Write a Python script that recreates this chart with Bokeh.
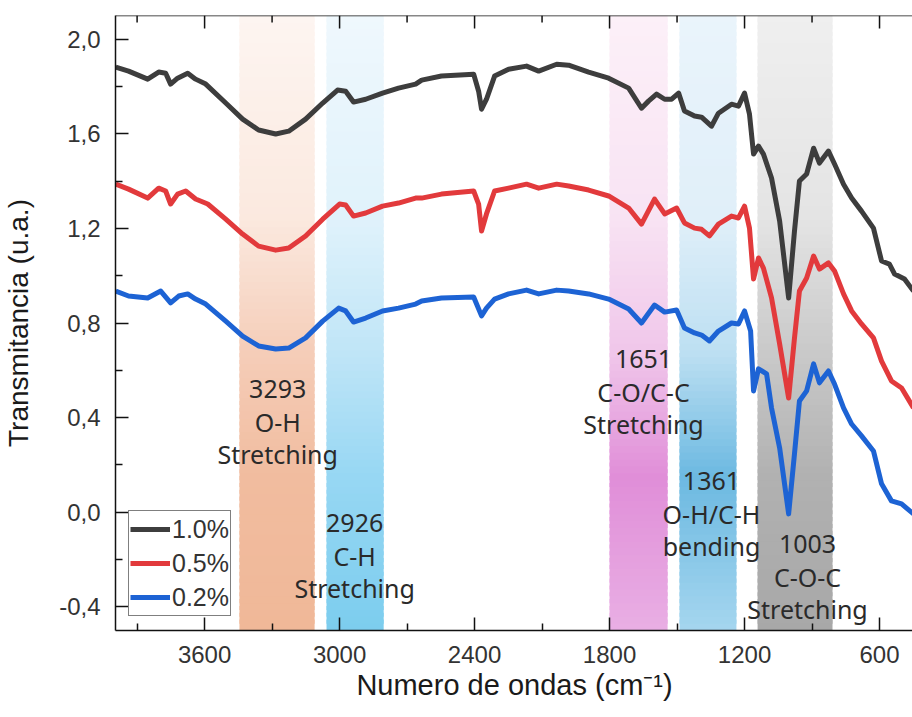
from bokeh.plotting import figure
from bokeh.models import (Range1d, FixedTicker, CustomJSTickFormatter, Span,
                          ColumnDataSource, Legend, LegendItem)
from bokeh.core.properties import value
from bokeh.embed import file_html
from bokeh.resources import INLINE

# ---------------- data ----------------
wn_10 = [3995, 3938, 3853, 3804, 3773, 3751, 3720, 3675, 3640, 3595, 3506, 3431, 3360, 3284,
         3226, 3151, 3075, 3009, 2973, 2938, 2884, 2809, 2738, 2662, 2635, 2547, 2404, 2382,
         2369, 2347, 2311, 2249, 2169, 2115, 2035, 1982, 1893, 1804, 1715, 1658, 1627, 1591,
         1555, 1524, 1493, 1467, 1422, 1391, 1347, 1316, 1258, 1227, 1200, 1178, 1160, 1138,
         1116, 1080, 1044, 1004, 978, 956, 924, 893, 867, 827, 800, 760, 724, 680, 627, 591,
         556, 533, 489, 449]
t_10 = [1.882, 1.865, 1.831, 1.861, 1.856, 1.810, 1.835, 1.856, 1.831, 1.810, 1.730, 1.662,
        1.616, 1.599, 1.611, 1.662, 1.730, 1.785, 1.780, 1.734, 1.746, 1.772, 1.793, 1.810,
        1.827, 1.844, 1.852, 1.780, 1.704, 1.746, 1.844, 1.873, 1.886, 1.865, 1.894, 1.890,
        1.861, 1.835, 1.793, 1.708, 1.738, 1.768, 1.746, 1.746, 1.772, 1.696, 1.675, 1.670,
        1.632, 1.687, 1.725, 1.717, 1.772, 1.683, 1.514, 1.548, 1.514, 1.413, 1.231, 0.906,
        1.189, 1.400, 1.430, 1.539, 1.476, 1.527, 1.472, 1.387, 1.328, 1.273, 1.201, 1.062,
        1.049, 1.007, 0.986, 0.935]

wn_05 = [3995, 3938, 3853, 3804, 3773, 3751, 3720, 3684, 3640, 3586, 3506, 3431, 3360, 3284,
         3226, 3151, 3075, 3000, 2973, 2938, 2884, 2809, 2738, 2662, 2635, 2547, 2404, 2382,
         2369, 2347, 2311, 2249, 2169, 2115, 2035, 1982, 1893, 1804, 1715, 1658, 1600, 1555,
         1502, 1467, 1422, 1391, 1356, 1316, 1258, 1227, 1200, 1178, 1160, 1138, 1116, 1080,
         1044, 1004, 978, 956, 924, 893, 867, 827, 800, 760, 724, 680, 627, 591, 547, 502, 449]
t_05 = [1.387, 1.366, 1.328, 1.370, 1.358, 1.303, 1.345, 1.358, 1.324, 1.303, 1.239, 1.176,
        1.125, 1.108, 1.117, 1.168, 1.239, 1.303, 1.299, 1.252, 1.265, 1.294, 1.307, 1.328,
        1.328, 1.345, 1.358, 1.303, 1.189, 1.261, 1.358, 1.370, 1.387, 1.370, 1.387, 1.379,
        1.362, 1.337, 1.286, 1.218, 1.324, 1.261, 1.286, 1.223, 1.201, 1.196, 1.168, 1.218,
        1.252, 1.244, 1.294, 1.201, 0.986, 1.075, 1.032, 0.906, 0.711, 0.483, 0.737, 0.935,
        0.990, 1.083, 1.028, 1.054, 1.020, 0.923, 0.851, 0.796, 0.737, 0.639, 0.555, 0.525,
        0.441]

wn_02 = [3995, 3938, 3853, 3795, 3751, 3715, 3675, 3640, 3595, 3506, 3431, 3360, 3284, 3226,
         3151, 3075, 3004, 2973, 2938, 2884, 2809, 2738, 2662, 2635, 2547, 2404, 2369, 2347,
         2311, 2249, 2169, 2115, 2035, 1982, 1893, 1804, 1715, 1658, 1600, 1555, 1502, 1467,
         1422, 1391, 1356, 1316, 1258, 1227, 1200, 1173, 1160, 1138, 1102, 1080, 1044, 1004,
         978, 956, 924, 893, 867, 827, 800, 760, 724, 680, 627, 591, 547, 502, 449]
t_02 = [0.935, 0.914, 0.906, 0.935, 0.885, 0.914, 0.923, 0.901, 0.880, 0.808, 0.745, 0.703,
        0.690, 0.694, 0.737, 0.808, 0.863, 0.851, 0.804, 0.821, 0.851, 0.863, 0.880, 0.893,
        0.906, 0.910, 0.830, 0.863, 0.901, 0.923, 0.939, 0.923, 0.939, 0.935, 0.923, 0.901,
        0.859, 0.800, 0.876, 0.846, 0.855, 0.779, 0.758, 0.749, 0.724, 0.766, 0.800, 0.796,
        0.851, 0.766, 0.513, 0.606, 0.585, 0.441, 0.272, -0.007, 0.247, 0.470, 0.513, 0.627,
        0.547, 0.597, 0.542, 0.441, 0.373, 0.323, 0.259, 0.120, 0.048, 0.035, -0.007]

series_labels = ["1.0%", "0.5%", "0.2%"]

band_start = [3445, 3058, 1800, 1489, 1142]
band_end = [3111, 2804, 1542, 1236, 809]

annot_wn = [3275, 2933, 1649, 1347, 920]
annot_text = [["3293", "O-H", "Stretching"],
              ["2926", "C-H", "Stretching"],
              ["1651", "C-O/C-C", "Stretching"],
              ["1361", "O-H/C-H", "bending"],
              ["1003", "C-O-C", "Stretching"]]
annot_top = [0.521, -0.045, 0.648, 0.132, -0.134]

x_major = [3600, 3000, 2400, 1800, 1200, 600]
x_minor = [3900, 3300, 2700, 2100, 1500, 900]
y_major = [-0.4, 0.0, 0.4, 0.8, 1.2, 1.6, 2.0]
y_minor = [-0.2, 0.2, 0.6, 1.0, 1.4, 1.8]

# ---------------- styles ----------------
series_colors = ["#3d3d3d", "#e23a3c", "#1d63d4"]
stop_frac = [0.0, 0.33, 0.55, 0.75, 1.0]   # fraction from top of plot area
band_colors = [
    ["#fdf5f1", "#fbe9df", "#f5cdb8", "#f1bc9f", "#f0b898"],
    ["#eff8fd", "#e0f2fb", "#bfe5f7", "#97d7f3", "#7ccdee"],
    ["#fcf0f8", "#f8e3f3", "#f0c6ea", "#e08ed8", "#e9afe4"],
    ["#eaf4fb", "#e0eff9", "#bcdff2", "#6cb9e1", "#a5d6ef"],
    ["#efefef", "#e4e4e4", "#c9c9c9", "#b1b1b1", "#a8a8a8"],
]

Y0, Y1 = -0.5, 2.1
X0, X1 = 3996, 449
FRAME_H = 615
PX = (Y1 - Y0) / FRAME_H          # data units per pixel (vertical)

p = figure(frame_width=798, frame_height=FRAME_H,
           x_range=Range1d(X0, X1), y_range=Range1d(Y0, Y1),
           output_backend="svg", toolbar_location=None,
           min_border_left=114, min_border_right=0, min_border_top=15,
           min_border_bottom=80, background_fill_color="white")
p.outline_line_color = None
p.xgrid.visible = False
p.ygrid.visible = False


def hex2rgb(h):
    h = h.lstrip("#")
    return tuple(int(h[i:i + 2], 16) for i in (0, 2, 4))


def interp(stops, f):
    for k in range(len(stop_frac) - 1):
        a, b = stop_frac[k], stop_frac[k + 1]
        if f <= b or k == len(stop_frac) - 2:
            t = 0 if b == a else min(max((f - a) / (b - a), 0), 1)
            c0, c1 = hex2rgb(stops[k]), hex2rgb(stops[k + 1])
            return "#%02x%02x%02x" % tuple(round(c0[i] + (c1[i] - c0[i]) * t) for i in range(3))


# gradient bands built from thin horizontal slices
N = 90
h = (Y1 - Y0) / N
L, R, B, T, C = [], [], [], [], []
for bi in range(len(band_start)):
    for k in range(N):
        yb = Y0 + k * h
        yt = min(yb + 1.6 * h, Y1)
        ymid = yb + 0.5 * h
        f = (Y1 - ymid) / (Y1 - Y0)
        L.append(band_start[bi]); R.append(band_end[bi])
        B.append(yb); T.append(yt); C.append(interp(band_colors[bi], f))
p.quad(left="l", right="r", bottom="b", top="t", fill_color="c", line_color=None,
       source=ColumnDataSource(dict(l=L, r=R, b=B, t=T, c=C)))

# annotations
step = 0.138
ax, ay, at = [], [], []
for i, lines in enumerate(annot_text):
    for j, s in enumerate(lines):
        ax.append(annot_wn[i]); ay.append(annot_top[i] - j * step); at.append(s)
p.text(x="x", y="y", text="t", source=ColumnDataSource(dict(x=ax, y=ay, t=at)),
       text_align="center", text_baseline="middle", text_font=value("Noto Sans"),
       text_font_size="25px", text_color="#2a2a2a")

# spectra
renderers = []
for wn, tv, col in zip([wn_10, wn_05, wn_02], [t_10, t_05, t_02], series_colors):
    r = p.line(wn, tv, line_color=col, line_width=5, line_join="round")
    renderers.append(r)

legend = Legend(items=[LegendItem(label=lab, renderers=[r]) for lab, r in zip(series_labels, renderers)],
                location=(13, 14), border_line_color="black", border_line_width=1.5,
                background_fill_color="white", background_fill_alpha=1.0,
                label_text_font="Liberation Sans", label_text_font_size="25px",
                label_text_color="#333333", glyph_width=40, glyph_height=34,
                label_height=34, label_standoff=2, spacing=0, padding=1, margin=0)
p.add_layout(legend)

xt = FixedTicker(ticks=x_major, minor_ticks=x_minor)
yt = FixedTicker(ticks=y_major, minor_ticks=y_minor)

for ax_ in [p.xaxis[0], p.yaxis[0]]:
    ax_.major_tick_in = 13
    ax_.major_tick_out = 0
    ax_.minor_tick_in = 7
    ax_.minor_tick_out = 0
    ax_.axis_line_width = 1.5
    ax_.axis_line_color = "#111111"
    ax_.major_tick_line_width = 1.5
    ax_.minor_tick_line_width = 1.5
    ax_.major_tick_line_color = "#111111"
    ax_.minor_tick_line_color = "#111111"
    ax_.major_label_text_font = "Liberation Sans"
    ax_.major_label_text_font_size = "24px"
    ax_.major_label_text_color = "#333333"
    ax_.axis_label_text_font = "Liberation Sans"
    ax_.axis_label_text_font_style = "normal"
    ax_.axis_label_text_color = "#1a1a1a"

p.xaxis[0].ticker = xt
p.yaxis[0].ticker = yt
p.yaxis[0].formatter = CustomJSTickFormatter(code="return tick.toFixed(1).replace('.', ',');")
p.xaxis[0].axis_label = "Numero de ondas (cm\u207b\u00b9)"
p.yaxis[0].axis_label = "Transmitancia (u.a.)"
p.xaxis[0].axis_label_text_font_size = "29px"
p.yaxis[0].axis_label_text_font_size = "28px"
p.xaxis[0].major_label_standoff = 15
p.yaxis[0].major_label_standoff = 15
p.xaxis[0].axis_label_standoff = 3
p.yaxis[0].axis_label_standoff = 22

# top frame line with inward ticks (mirror of the bottom axis)
p.add_layout(Span(location=Y1, dimension="width", line_color="#111111", line_width=1.5))
p.segment(x0=x_major, x1=x_major, y0=[Y1] * len(x_major), y1=[Y1 - 13 * PX] * len(x_major),
          line_color="#111111", line_width=1.5)
p.segment(x0=x_minor, x1=x_minor, y0=[Y1] * len(x_minor), y1=[Y1 - 7 * PX] * len(x_minor),
          line_color="#111111", line_width=1.5)

open("out.html", "w").write(file_html(p, INLINE))
